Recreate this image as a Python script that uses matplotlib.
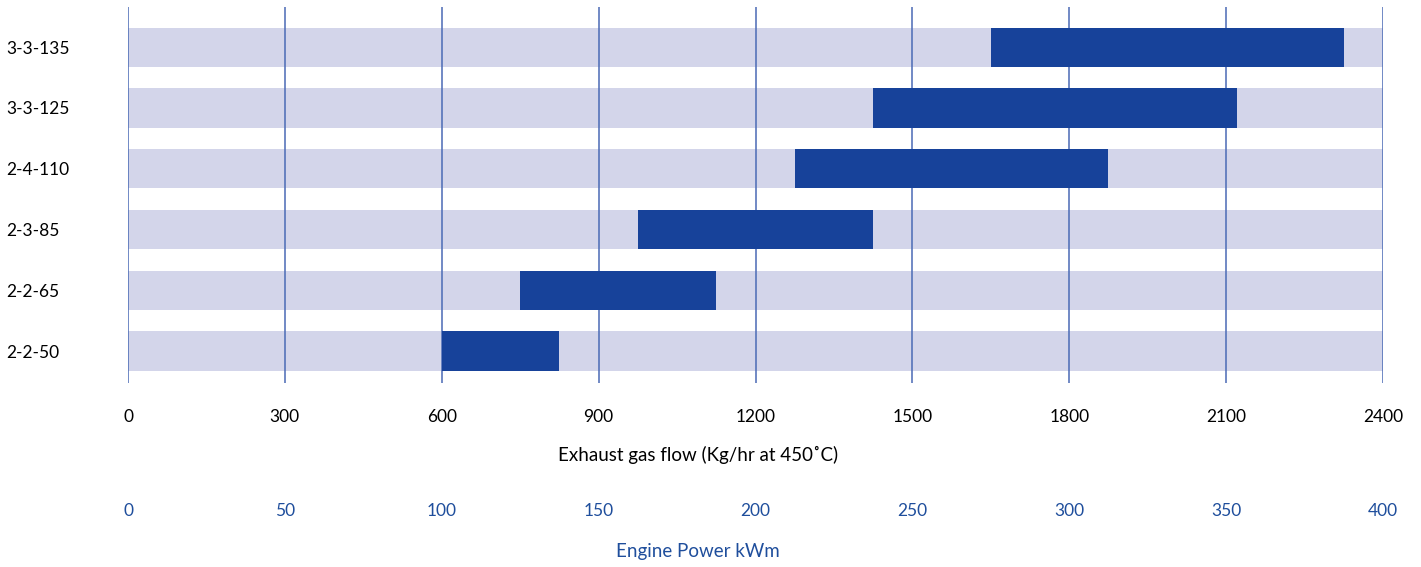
import matplotlib
matplotlib.use("Agg")
import matplotlib.pyplot as plt

plt.rcParams['font.family'] = ['Lato', 'DejaVu Sans']

models = ["2-2-50", "2-2-65", "2-3-85", "2-4-110", "3-3-125", "3-3-135"]
flow_start = [600, 750, 975, 1275, 1425, 1650]
flow_end = [825, 1125, 1425, 1875, 2120, 2325]
flow_max = 2400
flow_ticks = [0, 300, 600, 900, 1200, 1500, 1800, 2100, 2400]
power_per_flow = 1 / 6.0

dark = "#17429a"
light = "#d3d5ea"
grid_c = "#4a6ab5"
blue_text = "#1f4e9c"

fig = plt.figure(figsize=(14.21, 5.67), dpi=100)
ax = fig.add_axes([128/1421, 1 - 383/567, (1383-128)/1421, (383-7)/567])

y = list(range(len(models)))
ax.barh(y, [flow_max]*len(models), left=0, height=0.645, color=light, zorder=1)
ax.barh(y, [e - s for s, e in zip(flow_start, flow_end)], left=flow_start,
        height=0.645, color=dark, zorder=3)
for t in flow_ticks:
    ax.axvline(t, color=grid_c, lw=1.1, zorder=2)

ax.set_xlim(0, flow_max)
ax.set_ylim(-0.526, 5.66)
ax.set_yticks(y)
ax.set_yticklabels(models, fontsize=12.5)
ax.set_xticks(flow_ticks)
ax.set_xticklabels([str(t) for t in flow_ticks], fontsize=12.5)
ax.tick_params(axis='x', length=0, pad=19)
ax.tick_params(axis='y', length=0, pad=0)
for lbl in ax.get_yticklabels():
    lbl.set_horizontalalignment('left')
    lbl.set_x(-128/1255 + 6/1255)
for s in ax.spines.values():
    s.set_visible(False)
ax.set_xlabel("Exhaust gas flow (Kg/hr at 450˚C)", fontsize=13.5)
ax.xaxis.set_label_coords((698-128)/1255, -(455-383)/376)
ax.xaxis.label.set_verticalalignment('center')

sec = ax.secondary_xaxis(-(511-417)/376, functions=(lambda x: x*power_per_flow, lambda x: x/power_per_flow))
sec.set_xticks([t*power_per_flow for t in flow_ticks])
sec.set_xticklabels([str(int(round(t*power_per_flow))) for t in flow_ticks], fontsize=12.5, color=blue_text)
sec.tick_params(axis='x', length=0, pad=19)
for s in sec.spines.values():
    s.set_visible(False)
ax.text((698-128)/1255, -(551-383)/376, "Engine Power kWm", transform=ax.transAxes,
        fontsize=13.5, color=blue_text, ha='center', va='center')

fig.savefig("out.png", dpi=100)
